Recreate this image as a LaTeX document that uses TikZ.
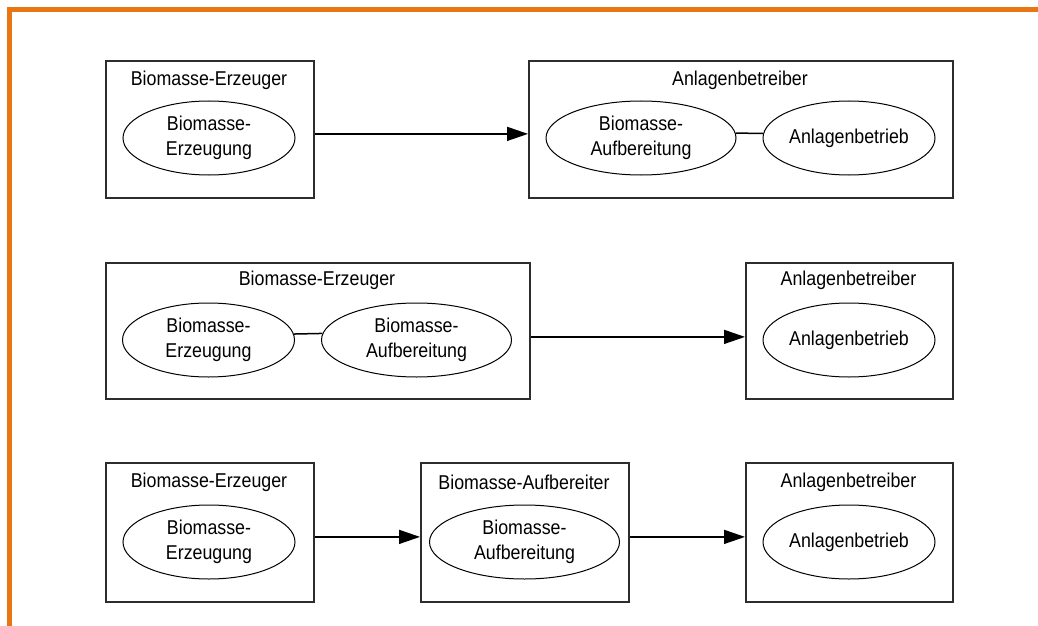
\documentclass[tikz,border=0pt]{standalone}
\usepackage{fontspec}
\setmainfont{Liberation Sans}[FakeStretch=0.89]
\usetikzlibrary{arrows.meta,shapes.geometric}
\definecolor{frameorange}{RGB}{232,119,18}
\definecolor{boxgray}{RGB}{45,45,45}
\tikzset{
  actor/.style={draw=boxgray,line width=0.9pt,anchor=north west,inner sep=0pt},
  ttl/.style={font=\fontsize{10}{12}\selectfont,inner sep=0pt,anchor=center},
  task/.style={ellipse,draw=black,line width=0.5pt,inner sep=0pt,
    font=\fontsize{10}{12.5}\selectfont,align=center,minimum height=37pt},
  flow/.style={line width=0.75pt,-{Triangle[length=10.5pt,width=7pt]}},
  link/.style={line width=0.75pt}
}
\begin{document}
\begin{tikzpicture}[x=0.5pt,y=-0.5pt]
\useasboundingbox (0,0) rectangle (1038,626);
% orange frame
\draw[frameorange,line width=2.5pt] (9.5,626) -- (9.5,9.5) -- (1038,9.5);

% ---------- row 1
\node[actor,minimum width=104pt,minimum height=68.5pt] (A1) at (105,60) {};
\node[ttl] (A1t) at (209,80) {Biomasse-Erzeuger};
\node[task,minimum width=86pt] (A1e) at (209,138) {Biomasse-\\Erzeugung};
\node[actor,minimum width=212pt,minimum height=68.5pt] (B1) at (528,60) {};
\node[ttl] (B1t) at (740,80) {Anlagenbetreiber};
\node[task,minimum width=95pt] (B1e) at (641,138) {Biomasse-\\Aufbereitung};
\node[task,minimum width=86pt] (B1f) at (849,138) {Anlagenbetrieb};
\draw[flow] ([yshift=-2.25pt]A1.east) -- ([yshift=-2.25pt]B1.west);
\draw[link] (B1e.3) -- (B1f.177);

% ---------- row 2
\node[actor,minimum width=212pt,minimum height=68pt] (A2) at (105,262) {};
\node[ttl] (A2t) at (317,280) {Biomasse-Erzeuger};
\node[task,minimum width=86pt] (A2e) at (208.5,340) {Biomasse-\\Erzeugung};
\node[task,minimum width=95pt] (A2f) at (416.5,340) {Biomasse-\\Aufbereitung};
\node[actor,minimum width=103.5pt,minimum height=68pt] (B2) at (745,262) {};
\node[ttl] (B2t) at (848.5,280) {Anlagenbetreiber};
\node[task,minimum width=86pt] (B2e) at (849,340) {Anlagenbetrieb};
\draw[flow] ([yshift=-3pt]A2.east) -- ([yshift=-3pt]B2.west);
\draw[link] (A2e.4) -- (A2f.176);

% ---------- row 3
\node[actor,minimum width=104pt,minimum height=69.5pt] (A3) at (105,462) {};
\node[ttl] (A3t) at (209,482) {Biomasse-Erzeuger};
\node[task,minimum width=86pt] (A3e) at (209,542) {Biomasse-\\Erzeugung};
\node[actor,minimum width=104pt,minimum height=69.5pt] (B3) at (420,462) {};
\node[ttl] (B3t) at (524,482) {Biomasse-Aufbereiter};
\node[task,minimum width=95pt] (B3e) at (524.5,542) {Biomasse-\\Aufbereitung};
\node[actor,minimum width=103.5pt,minimum height=69.5pt] (C3) at (745,462) {};
\node[ttl] (C3t) at (848.5,482) {Anlagenbetreiber};
\node[task,minimum width=86pt] (C3e) at (849,542) {Anlagenbetrieb};
\draw[flow] ([yshift=-2.25pt]A3.east) -- ([yshift=-2.25pt]B3.west);
\draw[flow] ([yshift=-2.25pt]B3.east) -- ([yshift=-2.25pt]C3.west);
\end{tikzpicture}
\end{document}
